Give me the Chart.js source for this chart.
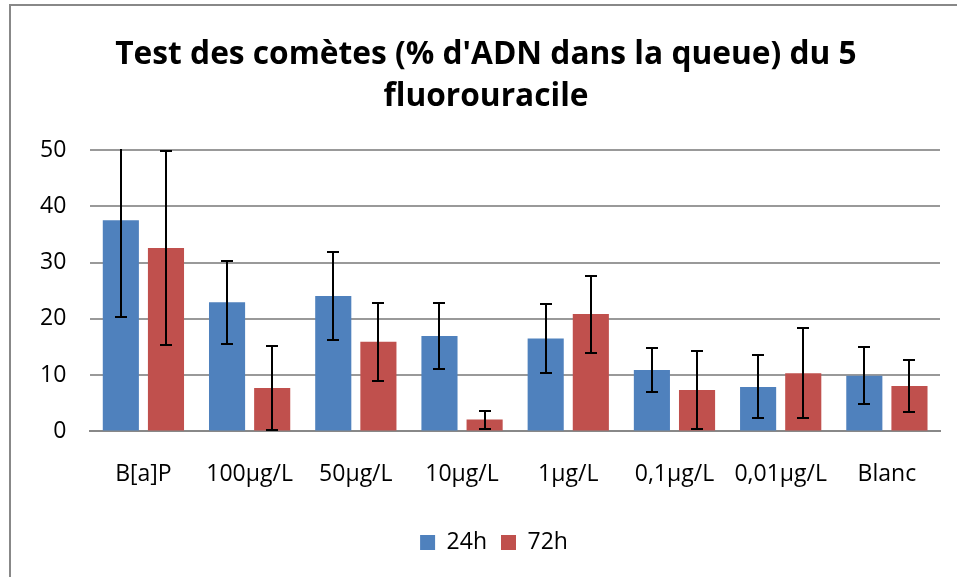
<!DOCTYPE html>
<html>
<head>
<meta charset="utf-8">
<script src="https://cdn.jsdelivr.net/npm/chart.js@4"></script>
<style>
  html, body { margin: 0; padding: 0; background: #fff; overflow: hidden; }
  #wrap { position: absolute; left: 0; top: 0; width: 957px; height: 577px; }
  #frame { position: absolute; left: 9px; top: 4px; width: 960px; height: 600px;
           border-left: 2px solid #888; border-top: 2px solid #888; }
</style>
</head>
<body>
<div id="frame"></div>
<div id="wrap"><canvas id="cometChart"></canvas></div>
<script>
// categories and values
const categories = ['B[a]P', '100µg/L', '50µg/L', '10µg/L', '1µg/L', '0,1µg/L', '0,01µg/L', 'Blanc']
const mean24 = [37.5, 22.95, 24.05, 16.95, 16.5, 10.9, 7.9, 9.9]
const err24  = [17.1, 7.35, 7.75, 5.95, 6.2, 3.95, 5.6, 5.1]
const mean72 = [32.6, 7.7, 15.95, 2.1, 20.85, 7.35, 10.35, 8.05]
const err72  = [17.2, 7.5, 6.95, 1.6, 6.85, 6.85, 7.95, 4.65]
const yTicks = [0, 10, 20, 30, 40, 50]

const FONT = "'Open Sans', 'DejaVu Sans', sans-serif"

//error bars drawn on top of the bars
const errorBars = {
    id: 'errorBars',
    afterDatasetsDraw(chart) {
        const ctx = chart.ctx
        const y = chart.scales.y
        const area = chart.chartArea
        ctx.save()
        ctx.beginPath()
        ctx.rect(area.left, area.top - 1, area.right - area.left, area.bottom - area.top + 2)
        ctx.clip()
        ctx.strokeStyle = '#000'
        ctx.lineWidth = 2
        chart.data.datasets.forEach((ds, i) => {
            chart.getDatasetMeta(i).data.forEach((bar, j) => {
                const v = ds.data[j], e = ds.errors[j]
                const top = Math.round(y.getPixelForValue(v + e))
                const bot = Math.round(y.getPixelForValue(Math.max(v - e, 0)))
                const x = Math.round(bar.x)
                ctx.beginPath()
                ctx.moveTo(x, top); ctx.lineTo(x, bot)
                ctx.moveTo(x - 6, top); ctx.lineTo(x + 6, top)
                ctx.moveTo(x - 6, bot); ctx.lineTo(x + 6, bot)
                ctx.stroke()
            })
        })
        ctx.restore()
    }
}

//nudge legend and title to the right, like the original
const blockShift = {
    id: 'blockShift',
    afterLayout(chart) {
        chart.legend.left += 16
        chart.legend.right += 16
        chart.titleBlock.left += 8
        chart.titleBlock.right += 8
    }
}

const chartData = {
    labels: categories,
    datasets: [{
        label: '24h',
        data: mean24,
        errors: err24,
        backgroundColor: '#4F81BD'
    }, {
        label: '72h',
        data: mean72,
        errors: err72,
        backgroundColor: '#C0504D'
    }]
}

const config = {
    type: 'bar',
    data: chartData,
    plugins: [errorBars, blockShift],
    options: {
        responsive: true,
        maintainAspectRatio: false,
        animation: false,
        categoryPercentage: 0.85,
        barPercentage: 0.8,
        layout: { padding: { left: 16, right: 17, top: 0, bottom: 13 } },
        plugins: {
            title: {
                display: true,
                text: ["Test des comètes (% d'ADN dans la queue) du 5", 'fluorouracile'],
                color: '#000',
                font: { family: FONT, size: 31.7, weight: 'bold', lineHeight: 1.325 },
                padding: { top: 34, bottom: 32 }
            },
            legend: {
                position: 'bottom',
                labels: {
                    color: '#000',
                    boxWidth: 15,
                    boxHeight: 15,
                    padding: 14,
                    font: { family: FONT, size: 23 }
                }
            },
            tooltip: { enabled: false }
        },
        scales: {
            x: {
                grid: { display: false, drawTicks: false },
                border: { display: true, color: '#888', width: 2 },
                ticks: {
                    color: '#000',
                    padding: 29,
                    maxRotation: 0,
                    autoSkip: false,
                    font: { family: FONT, size: 23 }
                }
            },
            y: {
                min: 0,
                max: 50,
                afterBuildTicks: axis => { axis.ticks = yTicks.map(v => ({ value: v })) },
                grid: { color: '#999', lineWidth: 2, drawTicks: false },
                border: { display: false },
                ticks: {
                    color: '#000',
                    padding: 24,
                    font: { family: FONT, size: 23 }
                }
            }
        }
    }
}

const cometChart = new Chart(document.getElementById('cometChart'), config)
</script>
</body>
</html>
